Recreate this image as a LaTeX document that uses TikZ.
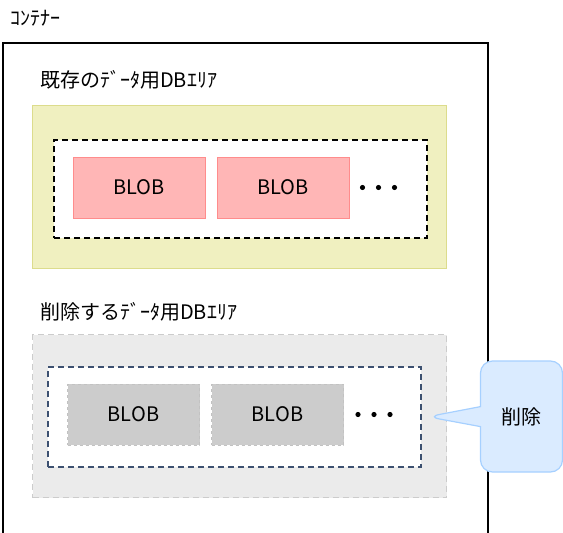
\documentclass[tikz,border=0pt]{standalone}
\usepackage{fontspec}
\setmainfont{Noto Sans CJK JP}
\usepackage{tikz}
\usetikzlibrary{positioning,calc,shapes.callouts}

\definecolor{keepfill}{HTML}{F0F0C0}
\definecolor{keepedge}{HTML}{DCDC8C}
\definecolor{pinkfill}{HTML}{FFB6B6}
\definecolor{pinkedge}{HTML}{FF8C8C}
\definecolor{grayfill}{HTML}{EBEBEB}
\definecolor{grayedge}{HTML}{CCCCCC}
\definecolor{blobgray}{HTML}{CCCCCC}
\definecolor{blobedge}{HTML}{C2C2C2}
\definecolor{navyedge}{HTML}{3C5070}
\definecolor{notefill}{HTML}{DAEBFF}
\definecolor{noteedge}{HTML}{A6D0FF}

\begin{document}
\begin{tikzpicture}[x=1pt, y=-1pt, node distance=144pt,
  area/.style={rectangle, draw, line width=1.2pt, minimum width=414pt, minimum height=163pt, anchor=north west},
  inner/.style={rectangle, draw, dashed, dash pattern=on 6pt off 4pt, line width=1.5pt, fill=white, minimum width=373pt, minimum height=98pt, anchor=north west},
  blob/.style={rectangle, draw, line width=1pt, minimum width=132pt, minimum height=61pt, font=\fontsize{20}{22}\selectfont},
  areatitle/.style={anchor=west, inner sep=0pt, font=\fontsize{20}{24}\selectfont},
  note/.style={rectangle callout, draw=noteedge, fill=notefill, line width=1.2pt, rounded corners=12pt, minimum width=82pt, minimum height=111pt, callout pointer width=20pt, font=\fontsize{20}{24}\selectfont}]

\useasboundingbox (0,0) rectangle (563,533);

% container
\node[areatitle] (containertitle) at (10,18) {ｺﾝﾃﾅｰ};
\draw[line width=1.5pt] (3,545) -- (3,43) -- (488,43) -- (488,545);

% existing data area
\node[areatitle] (keeptitle) at (40,80) {既存のﾃﾞｰﾀ用DBｴﾘｱ};
\node[area, draw=keepedge, fill=keepfill] (keeparea) at (32,105) {};
\node[inner] (keepdata) at (53,139) {};
\node[blob, draw=pinkedge, fill=pinkfill] (keepblob1) at (139,187.5) {BLOB};
\node[blob, draw=pinkedge, fill=pinkfill, right of=keepblob1] (keepblob2) {BLOB};
\foreach \dx in {0,16,32}
  \fill ($(keepblob2.east)+(13+\dx,0)$) circle (2.6pt);

% area to delete
\node[areatitle] (deltitle) at (40,312) {削除するﾃﾞｰﾀ用DBｴﾘｱ};
\node[area, dashed, dash pattern=on 6pt off 4pt, draw=grayedge, fill=grayfill] (delarea) at (32,334) {};
\node[inner, draw=navyedge, minimum height=100pt] (deldata) at (47,366) {};
\node[blob, dashed, draw=blobedge, fill=blobgray] (delblob1) at (133.5,414.5) {BLOB};
\node[blob, dashed, draw=blobedge, fill=blobgray, right of=delblob1] (delblob2) {BLOB};
\foreach \dx in {0,16,32}
  \fill ($(delblob2.east)+(14+\dx,0)$) circle (2.6pt);

% note
\node[note, callout absolute pointer={($(deldata.east)+(6,0)$)}] (delnote) at (521.5,416.5) {削除};
\end{tikzpicture}
\end{document}
